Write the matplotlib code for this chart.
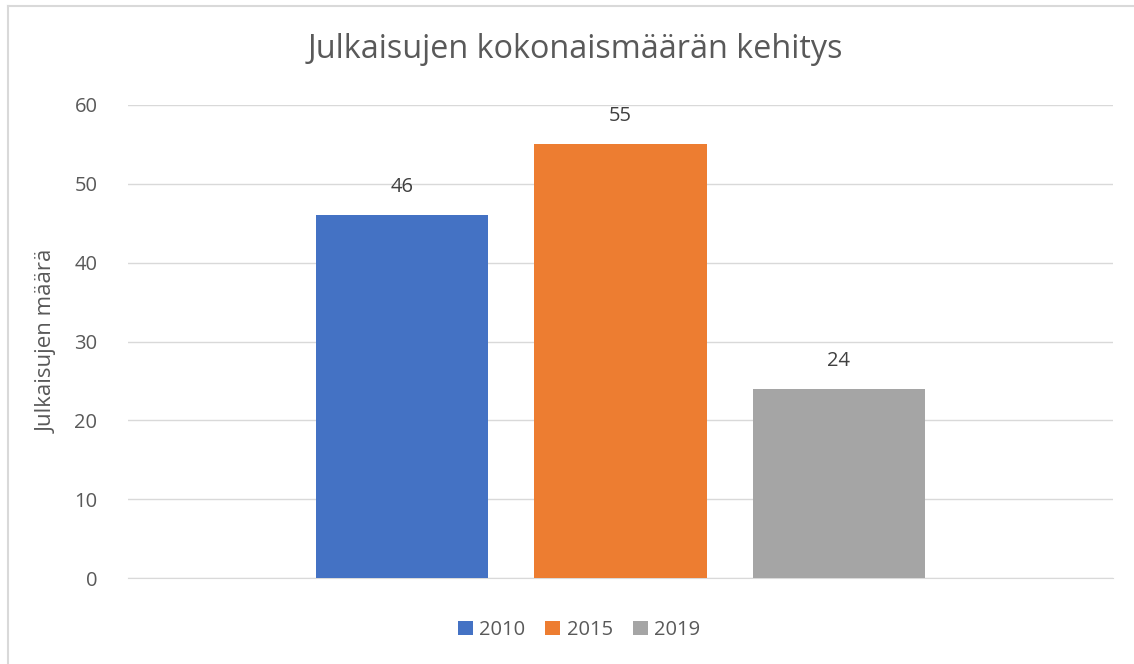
import matplotlib.pyplot as plt
from matplotlib.lines import Line2D

plt.rcParams['font.family'] = ['Open Sans', 'DejaVu Sans']

years = ["2010", "2015", "2019"]
counts = [46, 55, 24]
colors = ["#4472C4", "#ED7D31", "#A5A5A5"]
yticks = [0, 10, 20, 30, 40, 50, 60]


def main():
    fig = plt.figure(figsize=(11.34, 6.64), dpi=100)
    ax = fig.add_axes([128 / 1134, 1 - 578 / 664, (1113 - 128) / 1134, (578 - 105) / 664])

    positions = [-1, 0, 1]
    width = 172 / 218
    bars = ax.bar(positions, counts, width=width, color=colors, zorder=3)
    for b, v in zip(bars, counts):
        ax.text(b.get_x() + b.get_width() / 2, v + 2.3, str(v), ha="center", va="bottom",
                fontsize=14.5, color="#404040")

    ax.set_xlim(-2.259, 2.259)
    ax.set_ylim(0, 60)
    ax.set_yticks(yticks)
    ax.set_xticks([])
    ax.grid(axis="y", color="#D9D9D9", linewidth=1, zorder=0)
    for s in ["top", "right", "left"]:
        ax.spines[s].set_visible(False)
    ax.spines["bottom"].set_color("#D9D9D9")
    ax.tick_params(axis="y", length=0, labelsize=14.5, labelcolor="#595959", pad=22)
    ax.set_ylabel("Julkaisujen määrä", fontsize=16, color="#595959", labelpad=12)

    fig.text(575 / 1134, 1 - 50 / 664, "Julkaisujen kokonaismäärän kehitys", ha="center",
             va="center", fontsize=23.3, color="#595959")

    fig.legend(handles=list(bars), labels=years, loc="center", bbox_to_anchor=(579 / 1134, 1 - 630 / 664),
               ncol=3, frameon=False, fontsize=14.5, handlelength=0.75, handleheight=0.75,
               handletextpad=0.3, columnspacing=1.0, labelcolor="#595959")

    # outer chart border: only the left and top edges are visible in the frame
    border = dict(color="#D9D9D9", linewidth=1.5, transform=fig.transFigure)
    fig.add_artist(Line2D([7.5 / 1134, 7.5 / 1134], [0, 1 - 5.5 / 664], **border))
    fig.add_artist(Line2D([7.5 / 1134, 1], [1 - 5.5 / 664, 1 - 5.5 / 664], **border))

    fig.savefig("out.png", dpi=100)


if __name__ == '__main__':
    main()
